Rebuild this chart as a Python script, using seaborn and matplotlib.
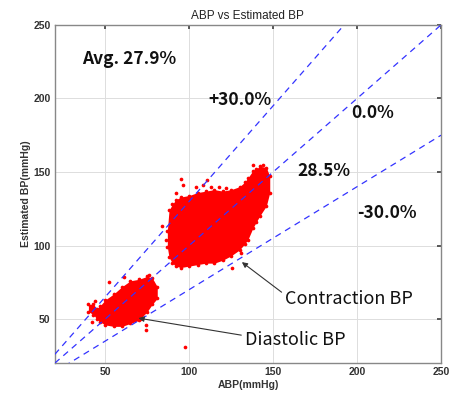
import numpy as np
import pandas as pd
import matplotlib
matplotlib.use("Agg")
import matplotlib.pyplot as plt
import seaborn as sns

# ---- data ----
# systolic ("Contraction BP") cluster outline: x, lower y, upper y
sys_x    = [87, 88, 90, 92, 95, 100, 105, 110, 115, 120, 125, 130, 133, 135, 138, 140, 142, 146, 148]
sys_low  = [99, 92, 88, 86, 85, 86, 87, 88, 88, 90, 93, 97, 101, 104, 112, 116, 120, 127, 136]
sys_high = [110, 124, 128, 131, 133, 134, 136, 137, 138, 137, 138, 140, 143, 146, 151, 152, 154, 153, 147]

# diastolic cluster outline
dia_x    = [40, 43, 45, 47, 50, 55, 60, 65, 70, 75, 78, 81]
dia_low  = [55, 53, 50, 48, 46, 45, 45, 47, 49, 55, 60, 64]
dia_high = [60, 60, 57, 59, 63, 67, 72, 76, 77, 79, 78, 72]

# isolated points
out_x = [97.6, 95, 96.5, 110.6, 138, 144, 125.7, 52, 61, 74, 74, 42, 71,
         113, 118, 122, 104, 108, 92, 86, 131, 84, 76, 44]
out_y = [31, 145, 141, 144.5, 154.7, 155, 84.6, 75, 78.5, 46, 42.5, 48, 50,
         139.5, 140, 139, 139.5, 141, 136, 104, 95, 113, 80, 62]

# reference lines (percent deviation)
ref_pct = [30.0, 0.0, -30.0]
ref_labels = ["+30.0%", "0.0%", "-30.0%"]
ref_label_xy = [(130, 199), (209, 190), (218, 122)]

avg_text = "Avg. 27.9%"
mid_text = "28.5%"

xlim = (20, 250)
ylim = (20, 250)
ticks = [50, 100, 150, 200, 250]

sns.set_theme(style="whitegrid")
plt.rcParams['font.family'] = ['Liberation Sans', 'DejaVu Sans']

fig = plt.figure(figsize=(4.57, 3.96), dpi=100)
ax = fig.add_axes([0.120, 0.083, 0.845, 0.854])
ax.set_facecolor("white")

red = "#ff0000"
ax.fill_between(sys_x, sys_low, sys_high, color=red, lw=0, zorder=2)
ax.fill_between(dia_x, dia_low, dia_high, color=red, lw=0, zorder=2)

edge_df = pd.DataFrame({
    "x": sys_x + sys_x + dia_x + dia_x + out_x,
    "y": sys_low + sys_high + dia_low + dia_high + out_y,
})
sns.scatterplot(data=edge_df, x="x", y="y", color=red, s=7, linewidth=0, ax=ax, zorder=3)

xs = np.array(xlim, dtype=float)
for p in ref_pct:
    ax.plot(xs, xs * (1 + p / 100.0), color="#3333ff", lw=0.9, dashes=(5, 4), zorder=4)

ax.set_xlim(*xlim)
ax.set_ylim(*ylim)
ax.set_xticks(ticks)
ax.set_yticks(ticks)
ax.grid(True, color="#dddddd", lw=0.7)
ax.tick_params(axis="both", direction="in", length=3, color="#444444",
               labelsize=7.5, labelcolor="#333333", pad=3, top=True, right=True)
for lab in ax.get_xticklabels() + ax.get_yticklabels():
    lab.set_fontweight("bold")
for s in ax.spines.values():
    s.set_color("#888888")
    s.set_linewidth(1.0)

ax.set_xlabel("ABP(mmHg)", fontsize=7.5, fontweight="bold", color="#333333", labelpad=2)
ax.set_ylabel("Estimated BP(mmHg)", fontsize=7.5, fontweight="bold", color="#333333", labelpad=2)
ax.set_title("ABP vs Estimated BP", fontsize=8.5, color="#222222", pad=4)

big = dict(fontsize=12.5, fontweight="bold", color="#111111",
           family=["Noto Sans CJK KR", "DejaVu Sans"], ha="center", va="center", zorder=6)
ax.text(64.5, 226.8, avg_text, **big)
for lab, (tx, ty) in zip(ref_labels, ref_label_xy):
    ax.text(tx, ty, lab, **big)
ax.text(180, 151, mid_text, **big)

ann = dict(fontsize=13, fontweight="normal", color="#111111",
           family=["Noto Sans CJK KR", "DejaVu Sans"], ha="left", va="center", zorder=6)
ax.annotate("Contraction BP", xy=(131.4, 88.7), xytext=(157, 63.5),
            arrowprops=dict(arrowstyle="-|>", color="#333333", lw=0.8,
                            shrinkA=0, shrinkB=0, mutation_scale=8,
                            relpos=(0, 0.75)), **ann)
ax.annotate("Diastolic BP", xy=(69.8, 50.6), xytext=(133, 35.6),
            arrowprops=dict(arrowstyle="-|>", color="#333333", lw=0.8,
                            shrinkA=0, shrinkB=0, mutation_scale=8,
                            relpos=(0, 0.75)), **ann)

fig.savefig("out.png", dpi=100)
